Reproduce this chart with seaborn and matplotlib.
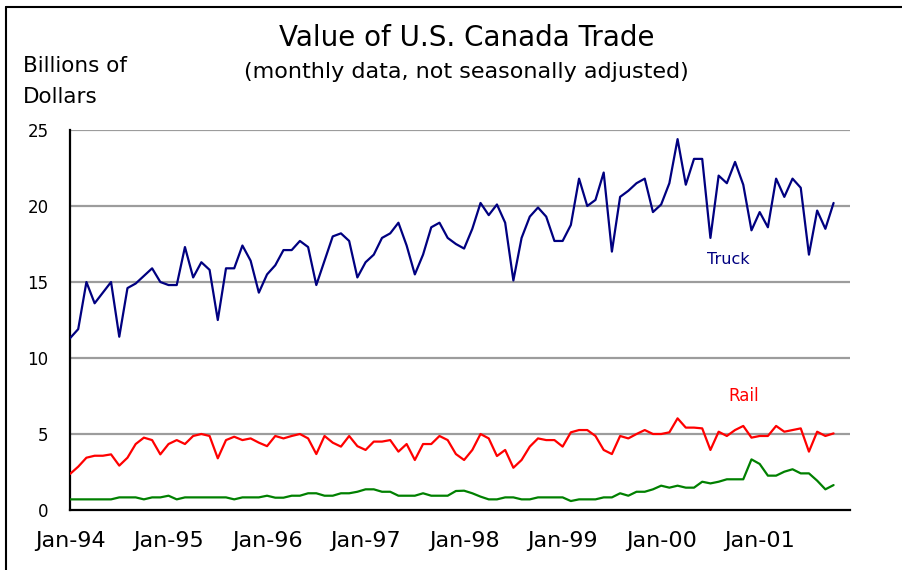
import matplotlib
matplotlib.use("Agg")
import matplotlib.pyplot as plt
from matplotlib.lines import Line2D
import numpy as np
import pandas as pd
import seaborn as sns

# Monthly values, Jan-1994 .. Oct-2001, billions of dollars
months = pd.period_range("1994-01", "2001-10", freq="M").strftime("%b-%y").tolist()

truck = [11.3, 11.9, 15.0, 13.6, 14.3, 15.0, 11.4, 14.6, 14.9, 15.4, 15.9, 15.0,
         14.8, 14.8, 17.3, 15.3, 16.3, 15.8, 12.5, 15.9, 15.9, 17.4, 16.4, 14.3,
         15.5, 16.1, 17.1, 17.1, 17.7, 17.3, 14.8, 16.4, 18.0, 18.2, 17.7, 15.3,
         16.3, 16.8, 17.9, 18.2, 18.9, 17.4, 15.5, 16.8, 18.6, 18.9, 17.9, 17.5,
         17.2, 18.5, 20.2, 19.4, 20.1, 18.9, 15.1, 17.9, 19.3, 19.9, 19.3, 17.7,
         17.7, 18.75, 21.8, 20.0, 20.4, 22.2, 17.0, 20.6, 21.0, 21.5, 21.8, 19.6,
         20.1, 21.5, 24.4, 21.4, 23.1, 23.1, 17.9, 22.0, 21.5, 22.9, 21.4, 18.4,
         19.6, 18.6, 21.8, 20.6, 21.8, 21.2, 16.8, 19.7, 18.5, 20.2]

rail = [2.37, 2.85, 3.44, 3.57, 3.57, 3.66, 2.92, 3.44, 4.34, 4.76, 4.6, 3.66,
        4.34, 4.6, 4.34, 4.87, 5.0, 4.87, 3.4, 4.6, 4.82, 4.6, 4.71, 4.43,
        4.2, 4.87, 4.71, 4.87, 5.0, 4.71, 3.68, 4.87, 4.43, 4.17, 4.87, 4.2,
        3.95, 4.5, 4.5, 4.6, 3.84, 4.34, 3.29, 4.34, 4.34, 4.87, 4.6, 3.68,
        3.29, 3.95, 5.0, 4.71, 3.55, 3.95, 2.78, 3.29, 4.17, 4.71, 4.6, 4.6,
        4.17, 5.11, 5.26, 5.26, 4.87, 3.95, 3.68, 4.87, 4.71, 5.0, 5.26, 5.0,
        5.0, 5.11, 6.03, 5.42, 5.42, 5.37, 3.95, 5.15, 4.87, 5.26, 5.53, 4.76,
        4.87, 4.87, 5.53, 5.15, 5.26, 5.37, 3.84, 5.15, 4.87, 5.04]

other = [0.7, 0.7, 0.7, 0.7, 0.7, 0.7, 0.83, 0.83, 0.83, 0.7, 0.83, 0.83,
         0.94, 0.7, 0.83, 0.83, 0.83, 0.83, 0.83, 0.83, 0.7, 0.83, 0.83, 0.83,
         0.94, 0.81, 0.81, 0.94, 0.94, 1.1, 1.1, 0.94, 0.94, 1.1, 1.1, 1.2,
         1.36, 1.36, 1.2, 1.2, 0.94, 0.94, 0.94, 1.1, 0.94, 0.94, 0.94, 1.25,
         1.27, 1.1, 0.88, 0.7, 0.7, 0.83, 0.83, 0.7, 0.7, 0.83, 0.83, 0.83,
         0.83, 0.59, 0.7, 0.7, 0.7, 0.83, 0.83, 1.1, 0.94, 1.2, 1.2, 1.36,
         1.6, 1.47, 1.6, 1.47, 1.47, 1.86, 1.75, 1.86, 2.02, 2.02, 2.02, 3.33,
         3.03, 2.26, 2.26, 2.52, 2.68, 2.41, 2.41, 1.93, 1.36, 1.64]

year_ticks = ["Jan-94", "Jan-95", "Jan-96", "Jan-97", "Jan-98", "Jan-99", "Jan-00", "Jan-01"]
y_ticks = [0, 5, 10, 15, 20, 25]

df = pd.DataFrame({"month": months, "Truck": truck, "Rail": rail, "Other": other})
df["pos"] = np.arange(len(df))

sns.set_theme(style="white")
plt.rcParams["font.family"] = ["DejaVu Sans"]

W, H = 902, 570
fig = plt.figure(figsize=(W / 100, H / 100), dpi=100)
fig.patch.set_facecolor("white")

# axes box in pixel terms
x0, x1, y_top, y_bot = 70, 850, 130, 510
ax = fig.add_axes([x0 / W, (H - y_bot) / H, (x1 - x0) / W, (y_bot - y_top) / H])
ax.set_facecolor("white")

for yv in y_ticks[1:]:
    ax.axhline(yv, color="#9C9C9C", lw=1.6, zorder=1)

sns.lineplot(data=df, x="pos", y="Truck", color="#000080", lw=1.6, ax=ax, zorder=3)
sns.lineplot(data=df, x="pos", y="Rail", color="#FF0000", lw=1.6, ax=ax, zorder=3)
sns.lineplot(data=df, x="pos", y="Other", color="#008000", lw=1.6, ax=ax, zorder=3)

ax.set_xlim(0, 95)
ax.set_ylim(0, 25)
ax.set_xlabel("")
ax.set_ylabel("")

tick_pos = [df.index[df["month"] == m][0] for m in year_ticks]
ax.set_xticks(tick_pos)
ax.set_xticklabels(year_ticks, fontsize=16)
ax.set_yticks(y_ticks)
ax.set_yticklabels([str(v) for v in y_ticks], fontsize=12)

for side in ("top", "right"):
    ax.spines[side].set_visible(False)
for side in ("left", "bottom"):
    ax.spines[side].set_color("black")
    ax.spines[side].set_linewidth(1.6)

ax.tick_params(axis="x", direction="inout", length=10, width=1.6, color="black", pad=10, labelcolor="black")
ax.tick_params(axis="y", direction="out", length=5, width=1.6, color="black", pad=10.5, labelcolor="black")

# series labels
ax.text(80.2, 16.5, "Truck", color="#000080", fontsize=11.5, ha="center", va="center")
ax.text(82.0, 7.5, "Rail", color="#FF0000", fontsize=12, ha="center", va="center")

# titles and unit label
fig.text(467 / W, 1 - 38 / H, "Value of U.S. Canada Trade", fontsize=20, ha="center", va="center", color="black")
fig.text(466 / W, 1 - 72 / H, "(monthly data, not seasonally adjusted)", fontsize=16, ha="center", va="center", color="black")
fig.text(23 / W, 1 - 66 / H, "Billions of", fontsize=15.5, ha="left", va="center", color="black")
fig.text(23 / W, 1 - 97 / H, "Dollars", fontsize=15.5, ha="left", va="center", color="black")

# frame lines along top and left edges
fig.add_artist(Line2D([6 / W, 1.0], [1 - 7 / H, 1 - 7 / H], transform=fig.transFigure, color="black", lw=1.5))
fig.add_artist(Line2D([6 / W, 6 / W], [0, 1 - 7 / H], transform=fig.transFigure, color="black", lw=1.5))

fig.savefig("out.png", dpi=100, facecolor="white")
